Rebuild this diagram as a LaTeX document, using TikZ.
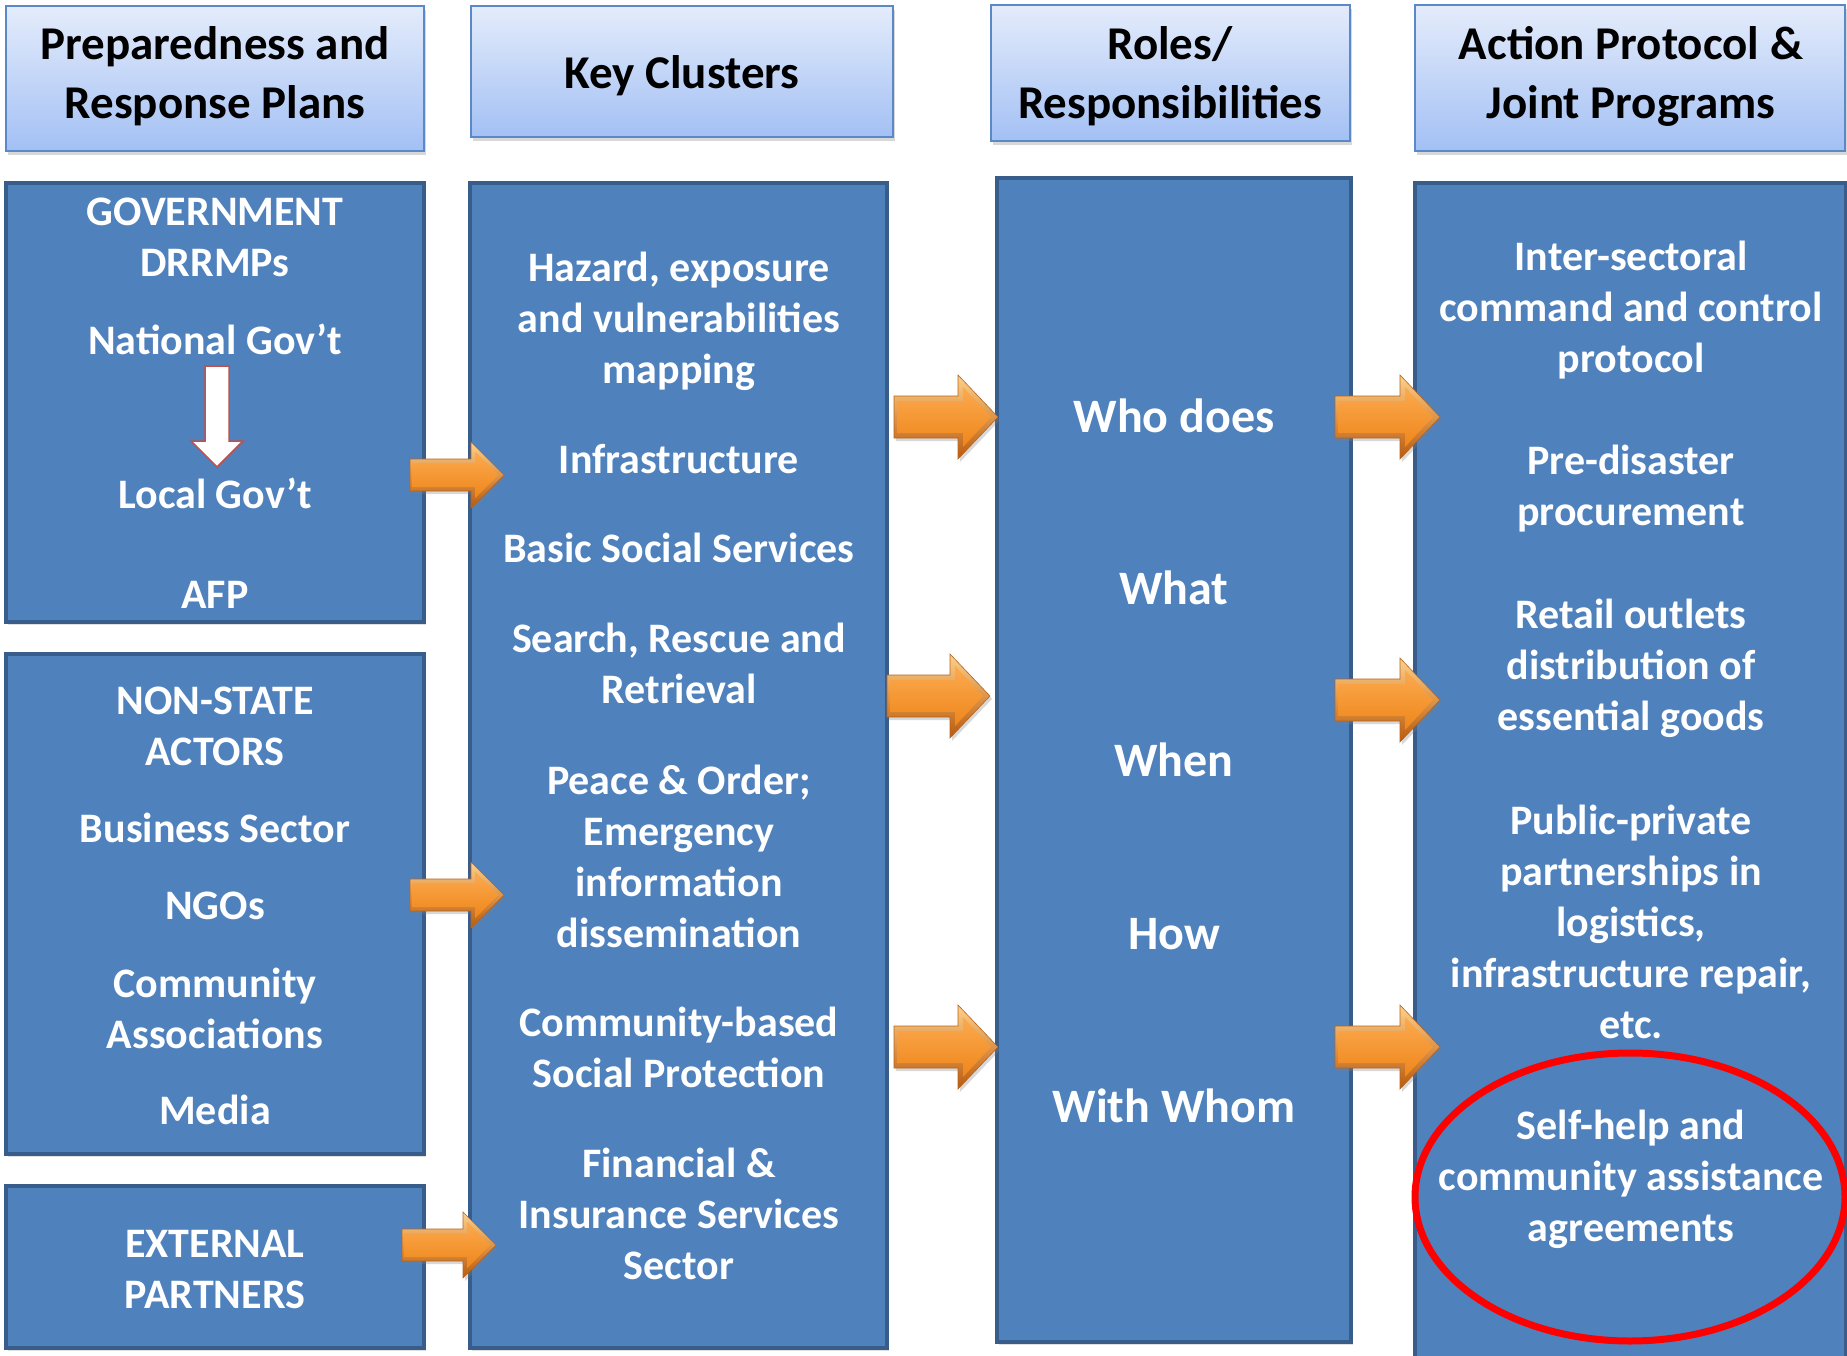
\documentclass[tikz,border=0pt]{standalone}
\usepackage{fontspec}
\setmainfont{Carlito}
\usetikzlibrary{shadows,calc,shapes.geometric}
\definecolor{boxblue}{HTML}{4F81BD}
\definecolor{boxedge}{HTML}{385D8A}
\definecolor{hdrtop}{HTML}{E4ECFB}
\definecolor{hdrbot}{HTML}{A3C0F4}
\definecolor{hdredge}{HTML}{5B88C6}
\definecolor{bevtop}{HTML}{FFD08A}
\definecolor{bevbot}{HTML}{B95A0C}
\definecolor{ortop}{HTML}{FCAA50}
\definecolor{ormid}{HTML}{F8921E}
\definecolor{orbot}{HTML}{EE861A}
\definecolor{oredge}{HTML}{B8641E}
\definecolor{darkred}{HTML}{C0504D}
\tikzset{
 hdrbox/.style={draw=hdredge, line width=1.5pt, top color=hdrtop, bottom color=hdrbot,
   drop shadow={shadow xshift=1.5pt, shadow yshift=-4pt, opacity=0.3}, inner sep=0pt},
 bodybox/.style={draw=boxedge, line width=4.5pt, fill=boxblue,
   drop shadow={shadow xshift=1.5pt, shadow yshift=-3pt, opacity=0.25}, inner sep=0pt},
 hdrtxt/.style={text=black, font=\fontsize{47}{59}\selectfont\bfseries, align=center, inner sep=0pt},
 txt/.style={text=white, font=\fontsize{42}{51}\selectfont\bfseries, align=center, inner sep=0pt},
 bigtxt/.style={text=white, font=\fontsize{48}{58}\selectfont\bfseries, align=center, inner sep=0pt},
 orouter/.style={top color=bevtop, bottom color=bevbot, draw=oredge, line width=0.6pt,
   drop shadow={shadow xshift=2pt, shadow yshift=-3pt, opacity=0.3}},
 orinner/.style={top color=ortop, middle color=ormid, bottom color=orbot},
 downarrow/.style={fill=white, draw=darkred, line width=1.5pt},
 ring/.style={ellipse, draw=red, line width=7pt, inner sep=0pt}
}
% #1 start, #2 end, #3 shaft half, #4 head half, #5 head length, #6 bevel inset
\newcommand\orarr[6]{%
 \path[orouter] let \p1=(#1), \p2=(#2) in
  (\x1,\y1+#3) -- (\x2-#5,\y1+#3) -- (\x2-#5,\y1+#4) -- (\x2,\y1) --
  (\x2-#5,\y1-#4) -- (\x2-#5,\y1-#3) -- (\x1,\y1-#3) -- cycle;
 \path[orinner] let \p1=(#1), \p2=(#2) in
  (\x1+0.6*#6,\y1+#3-#6) -- (\x2-#5+#6,\y1+#3-#6) -- (\x2-#5+#6,\y1+#4-2.4*#6) -- (\x2-1.4*#6,\y1) --
  (\x2-#5+#6,\y1-#4+2.4*#6) -- (\x2-#5+#6,\y1-#3+#6) -- (\x1+0.6*#6,\y1-#3+#6) -- cycle;}
\begin{document}
\begin{tikzpicture}[x=1pt,y=-1pt]
\useasboundingbox (0,0) rectangle (1847,1356);
\fill[white] (0,0) rectangle (1847,1356);
\clip (0,0) rectangle (1847,1356);

% headers
\node[hdrbox, minimum width=418pt, minimum height=145pt] (h1) at (215,78.5) {};
\node[hdrbox, minimum width=422pt, minimum height=131pt] (h2) at (682,71.5) {};
\node[hdrbox, minimum width=359pt, minimum height=136pt] (h3) at (1170.5,73) {};
\node[hdrbox, minimum width=430pt, minimum height=146pt] (h4) at (1630,78) {};
\node[hdrtxt] (h1t) at (215,76.5) {Preparedness and\\Response Plans};
\node[hdrtxt] (h2t) at (682,76) {Key Clusters};
\node[hdrtxt] (h3t) at (1170,76.5) {Roles/\\Responsibilities};
\node[hdrtxt] (h4t) at (1631,76.5) {Action Protocol \&\\Joint Programs};

% body boxes
\node[bodybox, minimum width=418pt, minimum height=439pt] (gov) at (215,402.5) {};
\node[bodybox, minimum width=418pt, minimum height=500pt] (nsa) at (215,904) {};
\node[bodybox, minimum width=418pt, minimum height=162pt] (ext) at (215,1267) {};
\node[bodybox, minimum width=417pt, minimum height=1165pt] (key) at (678.5,765.5) {};
\node[bodybox, minimum width=354pt, minimum height=1164pt] (roles) at (1174,760) {};
\node[bodybox, minimum width=431pt, minimum height=1182pt] (action) at (1630.5,774) {};

% government
\node[txt] (govt) at (215,237.5) {GOVERNMENT\\DRRMPs};
\node[txt] (natgov) at (215,339) {National Gov’t};
\node[txt] (locgov) at (215,493) {Local Gov’t};
\node[txt] (afp) at (215,595) {AFP};
\draw[downarrow] (205,366) -- (229,366) -- (229,441) -- (243,441) -- (217,467) -- (191,441) -- (205,441) -- cycle;

% non-state
\node[txt] (nsat) at (215,726.5) {NON-STATE\\ACTORS};
\node[txt] (bus) at (215,828) {Business Sector};
\node[txt] (ngo) at (215,906) {NGOs};
\node[txt] (comm) at (215,1008) {Community\\Associations};
\node[txt] (media) at (215,1110) {Media};

% external
\node[txt] (extt) at (215,1269.5) {EXTERNAL\\PARTNERS};

% key clusters
\node[txt] (k1) at (679,321.5) {Hazard, exposure\\and vulnerabilities\\mapping};
\node[txt] (k2) at (679,459) {Infrastructure};
\node[txt] (k3) at (679,548) {Basic Social Services};
\node[txt] (k4) at (679,663.5) {Search, Rescue and\\Retrieval};
\node[txt] (k5) at (679,856) {Peace \& Order;\\Emergency\\information\\dissemination};
\node[txt] (k6) at (679,1047) {Community-based\\Social Protection};
\node[txt] (k7) at (679,1214) {Financial \&\\Insurance Services\\Sector};

% roles
\node[bigtxt] (r1) at (1174,416) {Who does};
\node[bigtxt] (r2) at (1174,588) {What};
\node[bigtxt] (r3) at (1174,760) {When};
\node[bigtxt] (r4) at (1174,934) {How};
\node[bigtxt] (r5) at (1174,1106) {With Whom};

% action
\node[txt] (a1) at (1631,310.5) {Inter-sectoral\\command and control\\protocol};
\node[txt] (a2) at (1631,489) {Pre-disaster\\procurement};
\node[txt] (a3) at (1631,668) {Retail outlets\\distribution of\\essential goods};
\node[txt] (a4) at (1631,922) {Public-private\\partnerships in\\logistics,\\infrastructure repair,\\etc.};
\node[txt] (a5) at (1631,1179) {Self-help and\\community assistance\\agreements};
\node[ring, minimum width=430pt, minimum height=288pt] (selfring) at (1630,1197) {};

% arrow coordinates
\coordinate (p1s) at (410,475);  \coordinate (p1e) at (504,475);
\coordinate (p2s) at (410,895);  \coordinate (p2e) at (504,895);
\coordinate (p3s) at (402,1245); \coordinate (p3e) at (496,1245);
\coordinate (q1s) at (894,417);  \coordinate (q1e) at (998,417);
\coordinate (q2s) at (887,696);  \coordinate (q2e) at (990,696);
\coordinate (q3s) at (894,1047); \coordinate (q3e) at (998,1047);
\coordinate (s1s) at (1335,417); \coordinate (s1e) at (1440,417);
\coordinate (s2s) at (1335,700); \coordinate (s2e) at (1440,700);
\coordinate (s3s) at (1335,1047);\coordinate (s3e) at (1440,1047);

\orarr{p1s}{p1e}{16pt}{33pt}{33pt}{4pt}
\orarr{p2s}{p2e}{16pt}{33pt}{33pt}{4pt}
\orarr{p3s}{p3e}{16pt}{33pt}{33pt}{4pt}
\orarr{q1s}{q1e}{21pt}{42pt}{40pt}{5pt}
\orarr{q2s}{q2e}{21pt}{42pt}{40pt}{5pt}
\orarr{q3s}{q3e}{21pt}{42pt}{40pt}{5pt}
\orarr{s1s}{s1e}{21pt}{42pt}{40pt}{5pt}
\orarr{s2s}{s2e}{21pt}{42pt}{40pt}{5pt}
\orarr{s3s}{s3e}{21pt}{42pt}{40pt}{5pt}
\end{tikzpicture}
\end{document}
